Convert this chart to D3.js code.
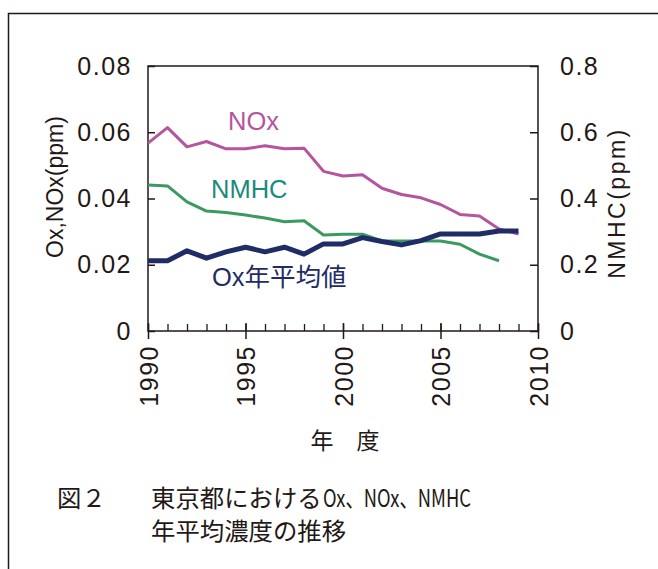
<!DOCTYPE html>
<html>
<head>
<meta charset="utf-8">
<script src="https://cdn.jsdelivr.net/npm/d3@7"></script>
<style>
  body { margin: 0; background: #fff; }
  text { fill: #231815; }
</style>
</head>
<body>
<script>
// annual means, Tokyo
const years = d3.range(1990, 2010);
const noxValues  = [0.0567, 0.0614, 0.0556, 0.0572, 0.0550, 0.0550, 0.0559, 0.0550, 0.0552, 0.0482,
                    0.0468, 0.0472, 0.0431, 0.0412, 0.0402, 0.0382, 0.0352, 0.0347, 0.0308, 0.0293];
const nmhcValues = [0.441, 0.438, 0.390, 0.362, 0.358, 0.350, 0.341, 0.330, 0.333, 0.290,
                    0.292, 0.292, 0.272, 0.272, 0.272, 0.272, 0.262, 0.232, 0.212];
const oxValues   = [0.0212, 0.0212, 0.0242, 0.0220, 0.0239, 0.0253, 0.0239, 0.0253, 0.0232, 0.0263,
                    0.0263, 0.0282, 0.0270, 0.0260, 0.0273, 0.0293, 0.0293, 0.0293, 0.0302, 0.0302];
const leftTicks = [0, 0.02, 0.04, 0.06, 0.08];
const rightTicks = [0, 0.2, 0.4, 0.6, 0.8];
const yearTicks = [1990, 1995, 2000, 2005, 2010];

const W = 658, H = 569;
const plot = { left: 148, right: 538, top: 66, bottom: 331 };
const ink = "#231815";

const svg = d3.select("body").append("svg")
  .attr("width", W).attr("height", H);

/* outer frame of the figure */
svg.append("path")
  .attr("d", `M8.5,${H} V13.5 H${W}`)
  .attr("fill", "none").attr("stroke", ink).attr("stroke-width", 1.5);

const x = d3.scaleLinear().domain([1990, 2010]).range([plot.left, plot.right]);
const yL = d3.scaleLinear().domain([0, 0.08]).range([plot.bottom, plot.top]);
const yR = d3.scaleLinear().domain([0, 0.8]).range([plot.bottom, plot.top]);

const tickFont = g => g.selectAll("text")
  .attr("font-family", "'Liberation Sans', Arial, sans-serif")
  .attr("font-size", 25).attr("letter-spacing", 1.5).attr("fill", ink);

/* left axis: inward ticks */
svg.append("g")
  .attr("transform", `translate(${plot.left},0)`)
  .call(d3.axisLeft(yL).tickValues(leftTicks).tickSizeInner(-7).tickSizeOuter(0).tickPadding(16)
    .tickFormat(d => d === 0 ? "0" : d3.format(".2f")(d)))
  .call(g => g.select(".domain").remove())
  .call(g => g.selectAll("line").attr("stroke", ink).attr("stroke-width", 1.5))
  .call(tickFont);

/* right axis */
svg.append("g")
  .attr("transform", `translate(${plot.right},0)`)
  .call(d3.axisRight(yR).tickValues(rightTicks).tickSizeInner(-8).tickSizeOuter(0).tickPadding(22)
    .tickFormat(d => d === 0 ? "0" : d3.format(".1f")(d)))
  .call(g => g.select(".domain").remove())
  .call(g => g.selectAll("line").attr("stroke", ink).attr("stroke-width", 1.5))
  .call(tickFont);

/* bottom axis: minor ticks each year, inward */
svg.append("g")
  .attr("transform", `translate(0,${plot.bottom})`)
  .call(d3.axisBottom(x).tickValues(d3.range(1990, 2011)).tickSize(-7).tickFormat(""))
  .call(g => g.select(".domain").remove())
  .call(g => g.selectAll("line").attr("stroke", ink).attr("stroke-width", 1.3));

/* bottom axis: major ticks crossing, rotated labels */
const xMajor = svg.append("g")
  .attr("transform", `translate(0,${plot.bottom})`)
  .call(d3.axisBottom(x).tickValues(yearTicks).tickSize(8).tickFormat(d3.format("d")))
  .call(g => g.select(".domain").remove())
  .call(g => g.selectAll("line").attr("y1", -8).attr("stroke", ink).attr("stroke-width", 1.5))
  .call(tickFont);
xMajor.selectAll("text")
  .attr("transform", "rotate(-90)")
  .attr("x", -14).attr("y", 0).attr("dy", "0.36em")
  .attr("text-anchor", "end");

/* plot frame */
svg.append("rect")
  .attr("x", plot.left).attr("y", plot.top)
  .attr("width", plot.right - plot.left).attr("height", plot.bottom - plot.top)
  .attr("fill", "none").attr("stroke", ink).attr("stroke-width", 1.5);

/* series */
const lineL = d3.line().x((d, i) => x(years[i])).y(d => yL(d));
const lineR = d3.line().x((d, i) => x(years[i])).y(d => yR(d));

svg.append("path").datum(noxValues).attr("d", lineL)
  .attr("fill", "none").attr("stroke", "#b4559e").attr("stroke-width", 3).attr("stroke-linejoin", "round");
svg.append("path").datum(nmhcValues).attr("d", lineR)
  .attr("fill", "none").attr("stroke", "#3a9a62").attr("stroke-width", 3).attr("stroke-linejoin", "round");
svg.append("path").datum(oxValues).attr("d", lineL)
  .attr("fill", "none").attr("stroke", "#1f2c66").attr("stroke-width", 5).attr("stroke-linejoin", "round");

/* series labels */
const labelFont = "'Liberation Sans', 'Noto Sans CJK JP', Arial, sans-serif";
svg.append("text").attr("x", 228).attr("y", 130).text("NOx")
  .attr("font-family", labelFont).attr("font-size", 25.5).style("fill", "#b4559e");
svg.append("text").attr("x", 211).attr("y", 198).text("NMHC")
  .attr("font-family", labelFont).attr("font-size", 25.5).style("fill", "#1b8a7e");
svg.append("text").attr("x", 212).attr("y", 286).text("Ox年平均値")
  .attr("font-family", labelFont).attr("font-size", 25.5).style("fill", "#1f2c66");

/* axis titles */
const titleFont = "'Liberation Sans', Arial, sans-serif";
svg.append("text")
  .attr("transform", "translate(63,187) rotate(-90)")
  .attr("text-anchor", "middle")
  .attr("font-family", titleFont).attr("font-size", 23)
  .text("Ox,NOx(ppm)");
svg.append("text")
  .attr("transform", "translate(625,203) rotate(-90)")
  .attr("text-anchor", "middle")
  .attr("font-family", titleFont).attr("font-size", 23).attr("letter-spacing", 2.5)
  .text("NMHC(ppm)");

svg.append("text")
  .attr("x", 345).attr("y", 449).attr("text-anchor", "middle")
  .attr("font-family", "'Noto Sans CJK JP', sans-serif").attr("font-size", 23)
  .text("年　度");

/* caption */
const capFont = "'Noto Sans CJK JP', sans-serif";
const caption = svg.append("g")
  .attr("font-family", capFont).attr("font-size", 24.4).attr("font-weight", 400);
caption.append("text").attr("x", 57).attr("y", 507).text("図２");
caption.append("text").attr("x", 151).attr("y", 507).text("東京都における");
caption.append("text").attr("x", 323).attr("y", 507)
  .attr("textLength", 148).attr("lengthAdjust", "spacingAndGlyphs")
  .text("Ox、NOx、NMHC");
caption.append("text").attr("x", 151).attr("y", 540).text("年平均濃度の推移");
</script>
</body>
</html>
